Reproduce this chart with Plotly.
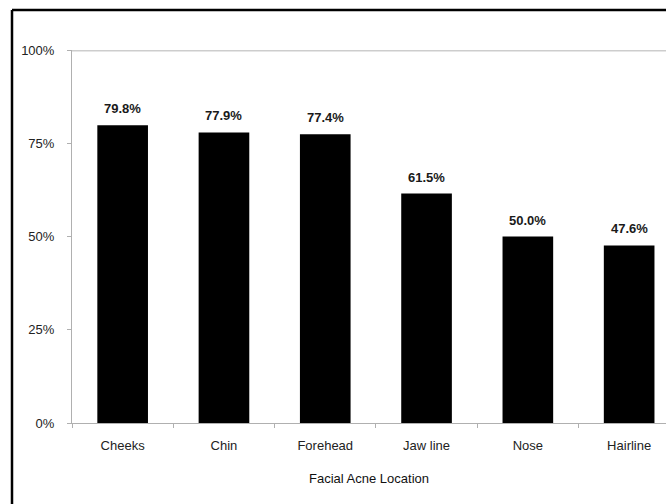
import plotly.graph_objects as go

# Share of respondents reporting acne at each facial location
locations = ["Cheeks", "Chin", "Forehead", "Jaw line", "Nose", "Hairline"]
shares = [79.8, 77.9, 77.4, 61.5, 50.0, 47.6]
y_tick_values = [0, 25, 50, 75, 100]
y_tick_labels = ["0%", "25%", "50%", "75%", "100%"]

FONT = "Liberation Sans, Arial, sans-serif"
W, H = 666, 504
M_L, M_R, M_T, M_B = 72, 0, 50, 81

fig = go.Figure(
    go.Bar(
        x=locations,
        y=shares,
        width=0.5,
        marker=dict(color="#000000", line=dict(width=0)),
        hoverinfo="skip",
    )
)

# Value labels above each bar
for loc, val in zip(locations, shares):
    fig.add_annotation(
        x=loc, y=val, text=f"<b>{val:.1f}%</b>", showarrow=False,
        yanchor="bottom", yshift=7,
        font=dict(family=FONT, size=13, color="#1a1a1a"),
    )

# Plot area is wider than the page: the right part of the last category is cut off
plot_w = W - M_L - M_R
cat_w = 101.3
x_hi = -0.5 + plot_w / cat_w

fig.update_layout(
    width=W, height=H,
    margin=dict(l=M_L, r=M_R, t=M_T, b=M_B),
    paper_bgcolor="white", plot_bgcolor="white",
    showlegend=False,
    font=dict(family=FONT, size=13, color="#222"),
    xaxis=dict(
        range=[-0.5, x_hi],
        showgrid=False, zeroline=False,
        showline=True, linecolor="#b0b0b0", linewidth=1,
        ticks="outside", ticklen=4, tickcolor="#b0b0b0",
        tickson="boundaries",
        tickfont=dict(family=FONT, size=13, color="#222"),
        ticklabelstandoff=10,
        title=dict(text="Facial Acne Location", standoff=22,
                   font=dict(family=FONT, size=13, color="#111")),
    ),
    yaxis=dict(
        range=[0, 100],
        tickvals=y_tick_values, ticktext=y_tick_labels,
        showgrid=False, zeroline=False,
        showline=True, linecolor="#b0b0b0", linewidth=1,
        ticks="outside", ticklen=4, tickcolor="#b0b0b0",
        tickfont=dict(family=FONT, size=13, color="#222"),
        ticklabelstandoff=10,
    ),
)

px_x = lambda px: (px - M_L) / plot_w
px_y = lambda py: (H - M_B - py) / (H - M_T - M_B)

# Light gray rule at the 100% level
fig.add_shape(type="line", xref="paper", yref="y", x0=0, x1=1, y0=100, y1=100,
              line=dict(color="#cdcdcd", width=3), layer="above")

# Black frame: only its left and top edges fall inside the page
frame = dict(color="#000000", width=2.5)
fig.add_shape(type="line", xref="paper", yref="paper",
              x0=px_x(12), x1=px_x(12), y0=px_y(H + 20), y1=px_y(10), line=frame)
fig.add_shape(type="line", xref="paper", yref="paper",
              x0=px_x(12), x1=px_x(W + 20), y0=px_y(10), y1=px_y(10), line=frame)

# The page is exactly the figure size; no scrollbars
no_scroll = ("document.documentElement.style.overflow='hidden';"
             "document.body.style.overflow='hidden';"
             "document.body.style.margin='0';")
fig.write_html("out.html", config={"displayModeBar": False}, post_script=no_scroll)
